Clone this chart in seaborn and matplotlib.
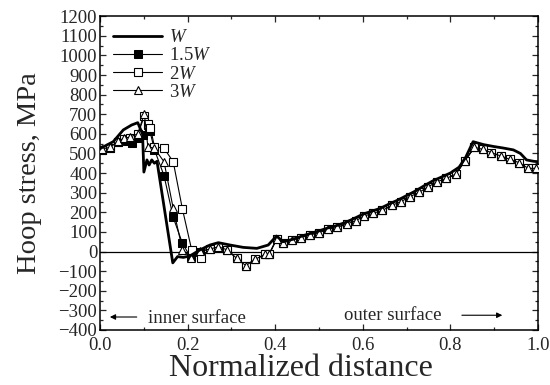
import numpy as np
import pandas as pd
import seaborn as sns
import matplotlib.pyplot as plt
from matplotlib.ticker import MultipleLocator

# W (solid thick line)
w_x = [0.0, 0.03, 0.053, 0.072, 0.086, 0.093, 0.097, 0.100, 0.107, 0.112, 0.118, 0.124, 0.130,
       0.166, 0.177, 0.19, 0.205, 0.228, 0.251, 0.27, 0.297, 0.327, 0.358, 0.384, 0.403, 0.418,
       0.44, 0.46, 0.48, 0.50, 0.52, 0.54, 0.56, 0.58, 0.60, 0.62, 0.64, 0.66, 0.68, 0.70, 0.72,
       0.74, 0.76, 0.78, 0.80, 0.82, 0.835, 0.852, 0.876, 0.90, 0.92, 0.944, 0.96, 0.974, 0.99, 1.0]
w_y = [525, 560, 620, 645, 657, 620, 600, 405, 467, 441, 467, 450, 460,
       -58, -26, -30, -23, 8, 33, 45, 33, 21, 16, 33, 79, 50,
       62, 78, 92, 105, 120, 132, 148, 168, 190, 205, 220, 242, 262, 285, 308,
       335, 360, 380, 400, 430, 480, 560, 545, 535, 528, 518, 500, 467, 460, 458]

# shared tail of the three marker series (they coincide past x~0.25)
tail_x = [0.25, 0.27, 0.291, 0.312, 0.333, 0.354, 0.377, 0.386, 0.403, 0.417, 0.438, 0.458,
          0.479, 0.5, 0.521, 0.542, 0.563, 0.584, 0.603, 0.624, 0.645, 0.666, 0.687, 0.708,
          0.729, 0.75, 0.77, 0.791, 0.813, 0.833, 0.855, 0.874, 0.894, 0.915, 0.936, 0.957,
          0.978, 0.995]
tail_y = [12, 24, 8, -35, -72, -40, -14, -14, 62, 45, 59, 70,
          84, 96, 113, 123, 140, 157, 181, 195, 210, 235, 254, 280,
          302, 331, 356, 373, 395, 462, 531, 521, 504, 487, 470, 453,
          424, 424]

# 1.5W (filled squares)
w15_x = [0.004, 0.023, 0.042, 0.061, 0.072, 0.086, 0.099, 0.110, 0.114, 0.124, 0.146, 0.167,
         0.188, 0.207, 0.228]
w15_y = [520, 528, 560, 562, 555, 580, 594, 645, 612, 520, 387, 174, 42, -30, 0]

# 2W (open squares)
w2_x = [0.004, 0.023, 0.042, 0.055, 0.068, 0.086, 0.101, 0.110, 0.115, 0.124, 0.146, 0.167,
        0.188, 0.209, 0.231]
w2_y = [520, 528, 560, 575, 580, 597, 690, 652, 632, 535, 526, 458, 217, 10, -35]

# 3W (open triangles)
w3_x = [0.004, 0.023, 0.042, 0.055, 0.068, 0.086, 0.101, 0.109, 0.124, 0.146, 0.167, 0.188,
        0.207, 0.228]
w3_y = [523, 531, 564, 578, 583, 600, 703, 535, 526, 458, 220, 10, -33, 2]

sns.set_style("ticks")
plt.rcParams['font.family'] = ['Liberation Serif', 'DejaVu Serif']
plt.rcParams['mathtext.fontset'] = 'custom'
plt.rcParams['mathtext.it'] = 'Liberation Serif:italic'
plt.rcParams['mathtext.rm'] = 'Liberation Serif'

fig = plt.figure(figsize=(5.5, 3.85), dpi=100)
ax = fig.add_axes([0.182, 0.143, 0.796, 0.815])

ax.axhline(0, color='black', lw=0.9, zorder=1)

sns.lineplot(x=w_x, y=w_y, ax=ax, color='black', lw=2.0, sort=False, label='$W$', zorder=5)
sns.lineplot(x=w15_x + tail_x, y=w15_y + tail_y, ax=ax, color='black', lw=0.8, sort=False,
             marker='s', markersize=5.5, markerfacecolor='black', markeredgecolor='black',
             label='1.5$W$', zorder=2)
sns.lineplot(x=w2_x + tail_x, y=w2_y + tail_y, ax=ax, color='black', lw=0.8, sort=False,
             marker='s', markersize=5.5, markerfacecolor='white', markeredgecolor='black',
             markeredgewidth=0.8, label='2$W$', zorder=3)
sns.lineplot(x=w3_x + tail_x, y=w3_y + tail_y, ax=ax, color='black', lw=0.8, sort=False,
             marker='^', markersize=6, markerfacecolor='white', markeredgecolor='black',
             markeredgewidth=0.8, label='3$W$', zorder=4)

ax.set_xlim(0.0, 1.0)
ax.set_ylim(-400, 1200)
ax.xaxis.set_major_locator(MultipleLocator(0.2))
ax.xaxis.set_minor_locator(MultipleLocator(0.1))
ax.yaxis.set_major_locator(MultipleLocator(100))
ax.yaxis.set_minor_locator(MultipleLocator(50))
ax.xaxis.set_major_formatter(plt.FormatStrFormatter('%.1f'))
ax.tick_params(which='both', direction='in', top=True, right=True, labelsize=13.5, width=0.9)
ax.tick_params(which='major', length=4)
ax.tick_params(which='minor', length=2)
ax.tick_params(axis='y', pad=2)
ax.tick_params(axis='x', pad=5)
for s in ax.spines.values():
    s.set_linewidth(1.1)
    s.set_color('black')

ax.set_xlabel('Normalized distance', fontsize=23, labelpad=0, x=0.459)
ax.set_ylabel('Hoop stress, MPa', fontsize=20.5, labelpad=12)

ax.annotate('', xy=(0.016, -334), xytext=(0.09, -334),
            arrowprops=dict(arrowstyle='-|>', color='black', lw=0.8, mutation_scale=8))
ax.text(0.222, -340, 'inner surface', fontsize=13.5, ha='center', va='center')
ax.text(0.668, -324, 'outer surface', fontsize=13.5, ha='center', va='center')
ax.annotate('', xy=(0.925, -325), xytext=(0.82, -325),
            arrowprops=dict(arrowstyle='-|>', color='black', lw=0.8, mutation_scale=8))

leg = ax.legend(loc='upper left', frameon=False, fontsize=13.5, handlelength=2.6,
                labelspacing=0.05, borderaxespad=0.3, handletextpad=0.4)

fig.savefig('out.png', dpi=100)
